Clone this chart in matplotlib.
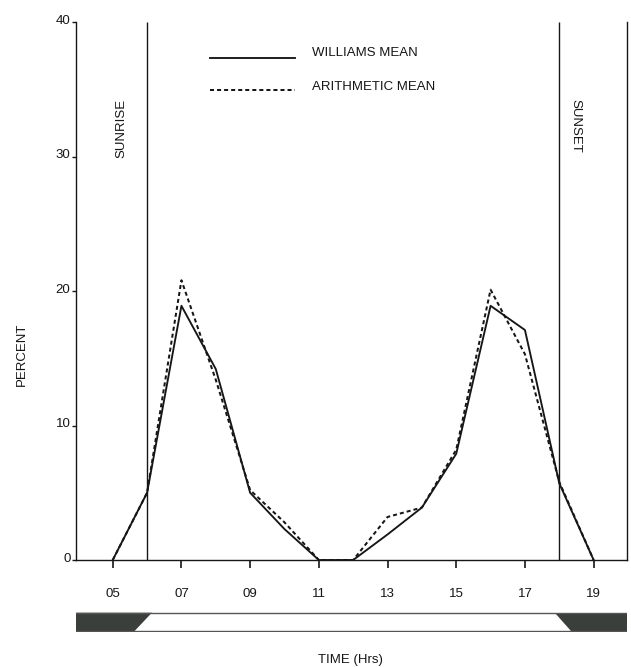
import matplotlib
matplotlib.use("Agg")
import matplotlib.pyplot as plt
import matplotlib.transforms as mtransforms

# hourly activity, percent of daily total
hours = [5, 6, 7, 8, 9, 10, 11, 12, 13, 14, 15, 16, 17, 18, 19]
williams_mean = [0, 5.0, 18.9, 14.2, 5.0, 2.3, 0, 0, 1.9, 3.9, 7.9, 18.9, 17.1, 5.7, 0]
arithmetic_mean = [0, 5.0, 20.8, 13.4, 5.2, 2.8, 0, 0, 3.2, 3.9, 8.2, 20.1, 15.3, 5.8, 0]

xtick_hours = [5, 7, 9, 11, 13, 15, 17, 19]
xtick_labels = ['05', '07', '09', '11', '13', '15', '17', '19']
ytick_values = [0, 10, 20, 30, 40]

sunrise = 6
sunset = 18
# light/dark bar: twilight edges (top edge, bottom edge) in hours
dawn_edges = (6.14, 5.63)
dusk_edges = (17.88, 18.35)

plt.rcParams['font.family'] = ['Liberation Sans', 'DejaVu Sans']
ink = '#161616'

fig = plt.figure(figsize=(6.31, 6.67), dpi=100)
ax = fig.add_axes([0.1204, 0.1604, 0.8732, 0.8066])
xmin, xmax = 3.93, 19.97

ax.plot(hours, williams_mean, color=ink, lw=1.35)
ax.plot(hours, arithmetic_mean, color=ink, lw=1.45, dashes=(2.0, 1.5))

ax.vlines([sunrise, sunset], 0, 40, color=ink, lw=1.0)
ax.text(5.26, 32.1, 'SUNRISE', rotation=90, ha='center', va='center',
        fontsize=9.5, color=ink)
ax.text(18.47, 32.3, 'SUNSET', rotation=-90, ha='center', va='center',
        fontsize=9.5, color=ink)

# legend drawn by hand
ax.plot([0.243, 0.397], [0.933, 0.933], transform=ax.transAxes, color=ink, lw=1.35)
ax.plot([0.243, 0.397], [0.874, 0.874], transform=ax.transAxes, color=ink,
        lw=1.45, dashes=(2.0, 1.5))
ax.text(0.428, 0.942, 'WILLIAMS MEAN', transform=ax.transAxes, va='center',
        fontsize=9.5, color=ink)
ax.text(0.428, 0.879, 'ARITHMETIC MEAN', transform=ax.transAxes, va='center',
        fontsize=9.5, color=ink)

ax.set_xlim(xmin, xmax)
ax.set_ylim(0, 40)
ax.spines['top'].set_visible(False)
for s in ['left', 'right', 'bottom']:
    ax.spines[s].set_color(ink)
    ax.spines[s].set_linewidth(1.0)

ax.set_xticks(xtick_hours)
ax.set_xticklabels(xtick_labels)
ax.set_yticks(ytick_values)
ax.tick_params(axis='x', direction='out', length=6, width=1.2, pad=14,
               labelsize=9.5, colors=ink)
ax.tick_params(axis='y', direction='out', length=3, width=1.0, pad=1,
               labelsize=9.5, colors=ink)
lift = mtransforms.ScaledTranslation(0, 3 / 100, fig.dpi_scale_trans)
for lab in ax.get_yticklabels():
    lab.set_transform(lab.get_transform() + lift)

fig.text(22 / 631, 1 - 354 / 667, 'PERCENT', rotation=90, ha='center',
         va='center', fontsize=9.5, color=ink)
fig.text(350 / 631, 1 - 660 / 667, 'TIME (Hrs)', ha='center', va='center',
         fontsize=9.5, color=ink)

# day / night bar under the time axis
bar = fig.add_axes([0.1204, 0.0525, 0.8732, 0.030])
bar.set_xlim(xmin, xmax)
bar.set_ylim(-0.04, 1.04)
bar.axis('off')
bar.plot([xmin, xmax], [1, 1], color='#555555', lw=1.0)
bar.plot([xmin, xmax], [0, 0], color='#555555', lw=1.0)
bar.fill([xmin, dawn_edges[0], dawn_edges[1], xmin], [1, 1, 0, 0],
         color='#3b3f3b', lw=0)
bar.fill([dusk_edges[0], xmax, xmax, dusk_edges[1]], [1, 1, 0, 0],
         color='#3b3f3b', lw=0)

fig.savefig('out.png', dpi=100)
